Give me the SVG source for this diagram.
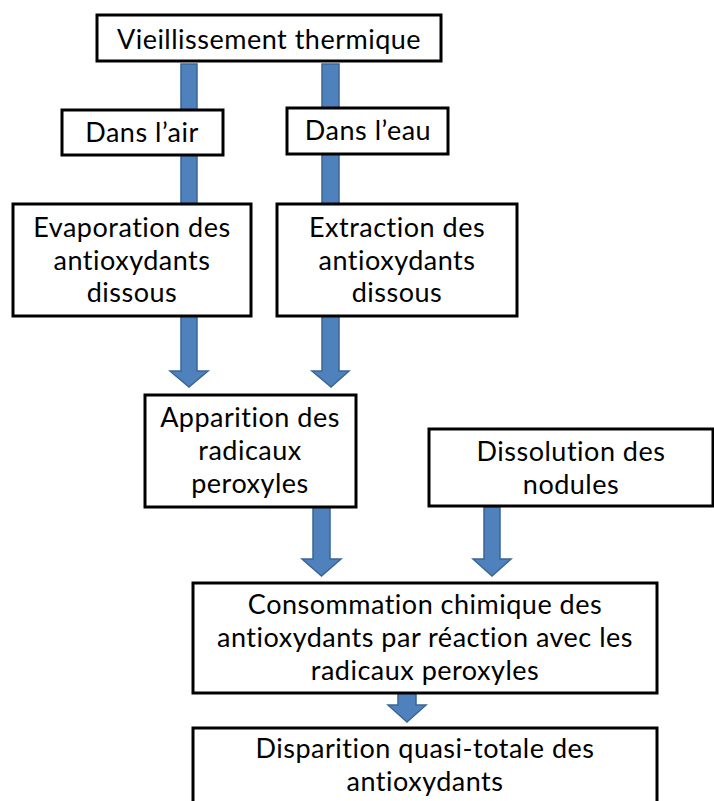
<svg xmlns="http://www.w3.org/2000/svg" width="714" height="801" viewBox="0 0 714 801">
<style>
.box{fill:#fff;stroke:#000;stroke-width:3}
.arr{fill:#4f81bd;stroke:#3b6694;stroke-width:1.5;stroke-linejoin:miter}
text{font-family:Lato,"Open Sans",sans-serif;font-size:27px;letter-spacing:0.5px;font-variant-ligatures:none;fill:#000;text-anchor:middle}
</style>
<rect width="714" height="801" fill="#fff"/>
<g id="connectors">
<rect class="arr" x="181" y="64" width="16" height="142"/>
<rect class="arr" x="322" y="64" width="17" height="142"/>
<path class="arr" d="M181,316 H197 V371 H208 L189,387 L170,371 H181 Z"/>
<path class="arr" d="M322,316 H339 V371 H349 L331,387 L312,371 H322 Z"/>
<path class="arr" d="M313,507 H330 V559 H341 L321.5,576 L302,559 H313 Z"/>
<path class="arr" d="M484,507 H500 V559 H511 L492,576 L473,559 H484 Z"/>
<path class="arr" d="M398,693 H416 V705 H426 L407,722 L388,705 H398 Z"/>
</g>
<g id="n1"><rect class="box" x="97" y="15" width="344" height="46"/><text x="269" y="49">Vieillissement thermique</text></g>
<g id="n2"><rect class="box" x="62" y="110" width="161" height="45"/><text x="142" y="142">Dans l’air</text></g>
<g id="n3"><rect class="box" x="287" y="108" width="161" height="46"/><text x="368" y="140">Dans l’eau</text></g>
<g id="n4"><rect class="box" x="13" y="204" width="238" height="112"/><text x="132" y="237">Evaporation des</text><text x="132" y="270">antioxydants</text><text x="132" y="302">dissous</text></g>
<g id="n5"><rect class="box" x="277" y="204" width="240" height="112"/><text x="397" y="237">Extraction des</text><text x="397" y="270">antioxydants</text><text x="397" y="302">dissous</text></g>
<g id="n6"><rect class="box" x="145" y="395" width="211" height="112"/><text x="250" y="427">Apparition des</text><text x="250" y="460">radicaux</text><text x="250" y="493">peroxyles</text></g>
<g id="n7"><rect class="box" x="429" y="429" width="284" height="77"/><text x="571" y="461">Dissolution des</text><text x="571" y="494">nodules</text></g>
<g id="n8"><rect class="box" x="193" y="583" width="464" height="110"/><text x="425" y="614">Consommation chimique des</text><text x="425" y="647">antioxydants par réaction avec les</text><text x="425" y="680">radicaux peroxyles</text></g>
<g id="n9"><rect class="box" x="193" y="728" width="464" height="80"/><text x="425" y="758">Disparition quasi-totale des</text><text x="425" y="791">antioxydants</text></g>
</svg>
